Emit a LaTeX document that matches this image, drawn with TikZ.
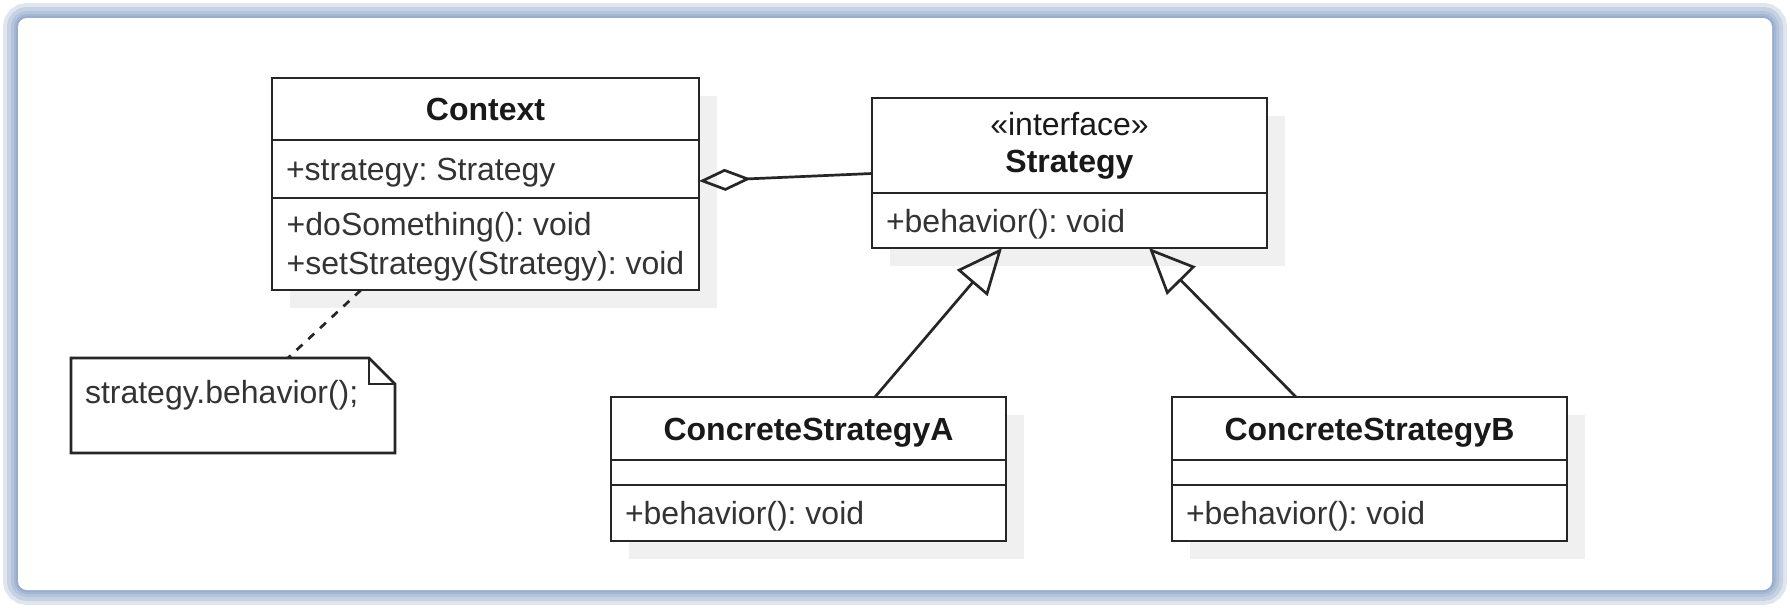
\documentclass[tikz,border=0pt]{standalone}
\usepackage{fontspec}
\setmainfont{Liberation Sans}
\frenchspacing
\usetikzlibrary{calc,arrows.meta,backgrounds}
\definecolor{glow}{RGB}{110,140,185}

\begin{document}
\begin{tikzpicture}[x=1pt,y=-1pt,
    box/.style={draw=black!85,line width=2.7pt,fill=white,inner sep=0pt,outer sep=0pt,text=black!80,
      font=\fontsize{32}{39}\selectfont},
    title/.style={box,font=\fontsize{32}{37}\selectfont\bfseries,text=black!90,align=center},
    member/.style={box,inner xsep=14pt,text height=23pt,text depth=0pt,
      execute at begin node={\hbox to #1\bgroup},execute at end node={\hfil\egroup}},
    line/.style={draw=black!85,line width=2.7pt},
    inherit/.style={line,-{Triangle[open,length=46pt,width=40pt]}},
    aggregate/.style={line,-{Diamond[open,length=52pt,width=22pt]}},
    attached/.style={line,dash pattern=on 8pt off 8pt},
    shade/.style={fill=black!6}]
  \useasboundingbox (0,0) rectangle (1790,608);

  % Context
  \node[title,minimum width=427pt,minimum height=62pt,anchor=north west,text height=23pt,text depth=0pt] (context) at (272,78) {Context};
  \node[member=399pt,minimum height=58pt,anchor=north] (context attr) at (context.south) {+strategy: Strategy};
  \node[box,minimum width=427pt,minimum height=92pt,anchor=north,text height=61pt,text depth=0pt] (context ops) at (context attr.south)
    {\begin{tabular}[b]{@{}l@{}}+doSomething(): void\\+setStrategy(Strategy): void\end{tabular}};

  % Strategy
  \node[title,minimum width=395pt,minimum height=95pt,anchor=north west] (strategy) at (872,98) {\mdseries«interface»\\Strategy};
  \node[member=367pt,minimum height=55pt,anchor=north] (strategy ops) at (strategy.south) {+behavior(): void};

  % ConcreteStrategyA
  \node[title,minimum width=395pt,minimum height=63pt,anchor=north west,text height=23pt,text depth=0pt] (concrete a) at (611,397) {ConcreteStrategyA};
  \node[box,minimum width=395pt,minimum height=25pt,anchor=north] (concrete a attr) at (concrete a.south) {};
  \node[member=367pt,minimum height=56pt,anchor=north] (concrete a ops) at (concrete a attr.south) {+behavior(): void};

  % ConcreteStrategyB
  \node[title,minimum width=395pt,minimum height=63pt,anchor=north west,text height=23pt,text depth=0pt] (concrete b) at (1172,397) {ConcreteStrategyB};
  \node[box,minimum width=395pt,minimum height=25pt,anchor=north] (concrete b attr) at (concrete b.south) {};
  \node[member=367pt,minimum height=56pt,anchor=north] (concrete b ops) at (concrete b attr.south) {+behavior(): void};

  % note
  \node[anchor=north west,inner xsep=14pt,inner ysep=22.5pt,outer sep=0pt,text width=296pt,align=left,text height=23pt,text depth=27pt,
    text=black!80,font=\fontsize{32}{39}\selectfont] (note) at (71,358) {strategy.behavior();};
  \draw[line,line join=miter] (note.north west) -- ([xshift=-26pt]note.north east) -- ([yshift=-26pt]note.north east)
    -- (note.south east) -- (note.south west) -- cycle;
  \draw[line] ([xshift=-26pt]note.north east) -- ++(0,26) -- ([yshift=-26pt]note.north east);

  % connectors
  \draw[aggregate] ([yshift=-28pt]strategy.west) -- ([yshift=-12pt]context attr.east);
  \draw[inherit] ([xshift=264pt]concrete a.north west) -- ([xshift=130pt]strategy ops.south west);
  \draw[inherit] ([xshift=124pt]concrete b.north west) -- ([xshift=277pt]strategy ops.south west);
  \draw[attached] ([xshift=89pt]context ops.south west) -- ([xshift=217pt]note.north west);

  % frame and shadows
  \begin{scope}[on background layer]
    \foreach \w in {30,22,14,8,4}
      \draw[glow,line width=\w pt,opacity=.22,rounded corners=9pt] (18,18) rectangle (1772,590);
    \fill[white,rounded corners=9pt] (18,18) rectangle (1772,590);
    \fill[shade] ([shift={(18,18)}]context.north west) rectangle ([shift={(18,18)}]context ops.south east);
    \fill[shade] ([shift={(18,18)}]strategy.north west) rectangle ([shift={(18,18)}]strategy ops.south east);
    \fill[shade] ([shift={(18,18)}]concrete a.north west) rectangle ([shift={(18,18)}]concrete a ops.south east);
    \fill[shade] ([shift={(18,18)}]concrete b.north west) rectangle ([shift={(18,18)}]concrete b ops.south east);
  \end{scope}
\end{tikzpicture}
\end{document}
